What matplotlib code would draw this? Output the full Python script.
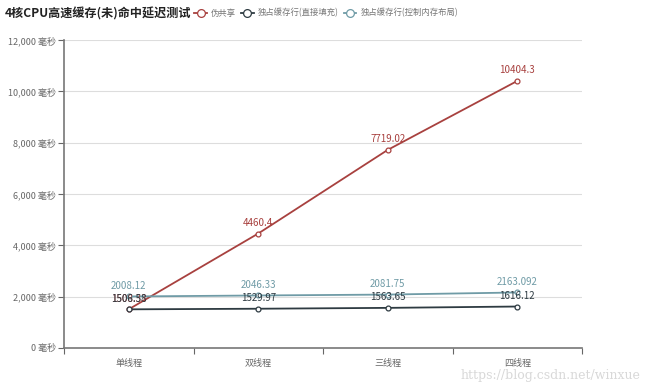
import matplotlib.pyplot as plt
import numpy as np

plt.rcParams['font.family'] = ['Noto Sans CJK SC', 'DejaVu Sans']

title = "4核CPU高速缓存(未)命中延迟测试"
categories = ["单线程", "双线程", "三线程", "四线程"]
series_names = ["伪共享", "独占缓存行(直接填充)", "独占缓存行(控制内存布局)"]
false_sharing = [1508.33, 4460.4, 7719.02, 10404.3]
padded = [1506.58, 1529.97, 1563.65, 1616.12]
layout = [2008.12, 2046.33, 2081.75, 2163.092]
label_text = [
    ["1508.33", "4460.4", "7719.02", "10404.3"],
    ["1506.58", "1529.97", "1563.65", "1616.12"],
    ["2008.12", "2046.33", "2081.75", "2163.092"],
]
colors = ["#a8413f", "#2e3b42", "#6f9ba6"]
yticks = [0, 2000, 4000, 6000, 8000, 10000, 12000]

fig = plt.figure(figsize=(6.5, 3.88), dpi=100)
ax = fig.add_axes([64 / 650, 1 - 348 / 388, 518 / 650, 308 / 388])

x = np.arange(len(categories))
all_series = [false_sharing, padded, layout]
for vals, col, name, labs in zip(all_series, colors, series_names, label_text):
    ax.plot(x, vals, color=col, lw=1.3, marker='o', ms=3.5,
            mfc='white', mec=col, mew=0.9, label=name, zorder=3)
    for xi, v, s in zip(x, vals, labs):
        ax.annotate(s, (xi, v), xytext=(0, 4), textcoords='offset points',
                    ha='center', va='bottom', fontsize=7, color=col, zorder=4)

ax.set_xlim(-0.5, 3.5)
ax.set_ylim(0, 12000)
ax.set_yticks(yticks)
ax.set_yticklabels([f"{v:,} 毫秒" for v in yticks])
ax.set_xticks(x)
ax.set_xticklabels(categories)
ax.set_xticks(np.arange(-0.5, 4, 1), minor=True)
ax.tick_params(axis='x', which='major', length=0, pad=8)
ax.tick_params(axis='x', which='minor', length=4, color='#666666', width=0.8)
ax.tick_params(axis='y', length=4, color='#666666', width=0.8, pad=2)
ax.tick_params(labelsize=6.5, labelcolor='#666666')
ax.grid(axis='y', color='#dddddd', lw=0.8)
ax.set_axisbelow(True)
for side in ['top', 'right']:
    ax.spines[side].set_visible(False)
for side in ['left', 'bottom']:
    ax.spines[side].set_color('#777777')
    ax.spines[side].set_linewidth(1.2)

fig.text(5 / 650, 1 - 14 / 388, title, fontsize=8.7, fontweight='bold',
         color='#222222', va='center', ha='left')
leg = fig.legend(loc='center left', bbox_to_anchor=(191 / 650, 1 - 13 / 388),
                 ncol=3, frameon=False, fontsize=6, handlelength=1.5,
                 columnspacing=0.6, handletextpad=0.5, markerscale=1.6,
                 borderaxespad=0)
for t in leg.get_texts():
    t.set_color('#777777')

fig.text(640 / 650, 1 - 376 / 388, "https://blog.csdn.net/winxue", fontsize=9,
         color='#d8d8d8', ha='right', va='center', family='DejaVu Serif')

fig.savefig("out.png", dpi=100)
